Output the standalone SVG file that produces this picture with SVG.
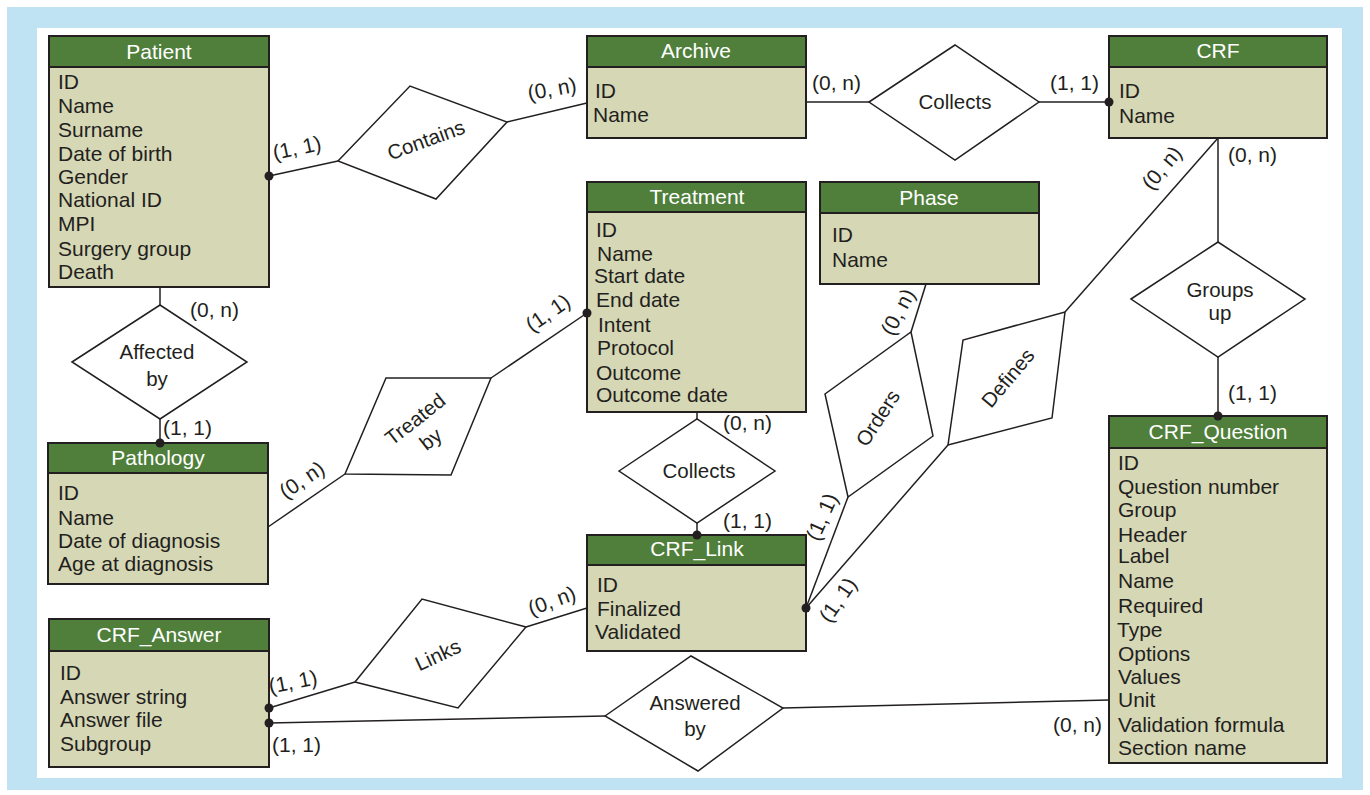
<svg xmlns="http://www.w3.org/2000/svg" width="1370" height="795" viewBox="0 0 1370 795">
  <defs>
    <style>
      text { font-family: "Liberation Sans", Arial, sans-serif; fill: #231f20; }
      .body { fill: #d6d7b5; stroke: #231f20; stroke-width: 2; }
      .head { fill: #4f7f3b; stroke: #231f20; stroke-width: 2; }
      .title { fill: #ffffff; font-size: 21px; text-anchor: middle; }
      .attr { font-size: 21px; }
      .rel { fill: #ffffff; stroke: #231f20; stroke-width: 1.5; stroke-linejoin: miter; }
      .rtxt { font-size: 20.5px; text-anchor: middle; }
      .lbl { font-size: 21px; }
      .clbl { font-size: 21px; text-anchor: middle; }
      .conn line { stroke: #231f20; stroke-width: 1.5; }
      .conn circle { fill: #231f20; }
    </style>
  </defs>

  <!-- frame -->
  <rect x="0" y="0" width="1370" height="795" fill="#ffffff"/>
  <rect x="7" y="7" width="1356" height="783" fill="#c0e3f3"/>
  <rect x="37" y="28" width="1305" height="750" fill="#ffffff"/>

  <!-- connectors -->
  <g id="connectors" class="conn">
    <line x1="269" y1="176" x2="338" y2="161"/>
    <line x1="507" y1="122" x2="587" y2="103"/>
    <line x1="806" y1="102" x2="869" y2="102"/>
    <line x1="1039" y1="102" x2="1109" y2="102"/>
    <line x1="160" y1="287" x2="160" y2="305"/>
    <line x1="160" y1="419" x2="160" y2="443"/>
    <line x1="268" y1="527" x2="345" y2="474"/>
    <line x1="491" y1="378" x2="587" y2="313"/>
    <line x1="697" y1="412" x2="697" y2="419"/>
    <line x1="697" y1="523" x2="697" y2="535"/>
    <line x1="926" y1="284" x2="911" y2="332"/>
    <line x1="848" y1="497" x2="806" y2="608"/>
    <line x1="948" y1="445" x2="806" y2="608"/>
    <line x1="1065" y1="312" x2="1218" y2="138"/>
    <line x1="1218" y1="138" x2="1218" y2="242"/>
    <line x1="1218" y1="357" x2="1218" y2="416"/>
    <line x1="269" y1="708" x2="355" y2="682"/>
    <line x1="526" y1="627" x2="587" y2="608"/>
    <line x1="269" y1="723" x2="605" y2="716"/>
    <line x1="783" y1="708" x2="1109" y2="700"/>
  </g>

  <!-- relationships -->
  <g id="rel-contains">
    <polygon class="rel" points="338,161 410,86 507,122 436,199"/>
    <text class="rtxt" transform="translate(426,140) rotate(-20)" y="7">Contains</text>
  </g>
  <g id="rel-collects-crf">
    <polygon class="rel" points="869,102 955,45 1039,102 955,160"/>
    <text class="rtxt" x="955" y="109">Collects</text>
  </g>
  <g id="rel-affected-by">
    <polygon class="rel" points="72,362 160,305 247,362 160,419"/>
    <text class="rtxt" x="157" y="359">Affected</text>
    <text class="rtxt" x="157" y="386">by</text>
  </g>
  <g id="rel-groups-up">
    <polygon class="rel" points="1131,299 1218,242 1305,299 1218,357"/>
    <text class="rtxt" x="1220" y="297">Groups</text>
    <text class="rtxt" x="1220" y="320">up</text>
  </g>
  <g id="rel-treated-by">
    <polygon class="rel" points="386,378 491,378 451,475 345,474"/>
    <g transform="translate(422,428) rotate(-38)">
      <text class="rtxt" y="-4">Treated</text>
      <text class="rtxt" y="21">by</text>
    </g>
  </g>
  <g id="rel-collects-link">
    <polygon class="rel" points="619,471 697,419 775,471 697,523"/>
    <text class="rtxt" x="699" y="478">Collects</text>
  </g>
  <g id="rel-orders">
    <polygon class="rel" points="911,332 933,436 848,497 825,394"/>
    <text class="rtxt" transform="translate(878,418) rotate(-57)" y="7">Orders</text>
  </g>
  <g id="rel-defines">
    <polygon class="rel" points="1065,312 1052,418 948,445 963,340"/>
    <text class="rtxt" transform="translate(1008,378) rotate(-50)" y="7">Defines</text>
  </g>
  <g id="rel-links">
    <polygon class="rel" points="355,682 422,599 526,627 458,708"/>
    <text class="rtxt" transform="translate(438,655) rotate(-25)" y="7">Links</text>
  </g>
  <g id="rel-answered-by">
    <polygon class="rel" points="605,716 691,656 783,708 698,771"/>
    <text class="rtxt" x="695" y="710">Answered</text>
    <text class="rtxt" x="695" y="736">by</text>
  </g>

  <!-- entities -->
  <g id="ent-patient">
    <rect class="body" x="49" y="36" width="220" height="251"/>
    <rect class="head" x="49" y="36" width="220" height="31"/>
    <text class="title" x="159" y="59">Patient</text>
    <text class="attr" x="58" y="89">ID</text>
    <text class="attr" x="58" y="113">Name</text>
    <text class="attr" x="58" y="137">Surname</text>
    <text class="attr" x="58" y="161">Date of birth</text>
    <text class="attr" x="58" y="184">Gender</text>
    <text class="attr" x="58" y="207">National ID</text>
    <text class="attr" x="58" y="231">MPI</text>
    <text class="attr" x="58" y="256">Surgery group</text>
    <text class="attr" x="58" y="279">Death</text>
  </g>
  <g id="ent-archive">
    <rect class="body" x="587" y="36" width="219" height="102"/>
    <rect class="head" x="587" y="36" width="219" height="31"/>
    <text class="title" x="696" y="58">Archive</text>
    <text class="attr" x="595" y="98">ID</text>
    <text class="attr" x="593" y="122">Name</text>
  </g>
  <g id="ent-crf">
    <rect class="body" x="1109" y="36" width="218" height="102"/>
    <rect class="head" x="1109" y="36" width="218" height="31"/>
    <text class="title" x="1218" y="58">CRF</text>
    <text class="attr" x="1119" y="98">ID</text>
    <text class="attr" x="1119" y="123">Name</text>
  </g>
  <g id="ent-treatment">
    <rect class="body" x="587" y="182" width="219" height="230"/>
    <rect class="head" x="587" y="182" width="219" height="30"/>
    <text class="title" x="697" y="204">Treatment</text>
    <text class="attr" x="596" y="237">ID</text>
    <text class="attr" x="597" y="261">Name</text>
    <text class="attr" x="594" y="283">Start date</text>
    <text class="attr" x="596" y="307">End date</text>
    <text class="attr" x="598" y="332">Intent</text>
    <text class="attr" x="597" y="355">Protocol</text>
    <text class="attr" x="596" y="380">Outcome</text>
    <text class="attr" x="596" y="402">Outcome date</text>
  </g>
  <g id="ent-phase">
    <rect class="body" x="820" y="182" width="219" height="102"/>
    <rect class="head" x="820" y="182" width="219" height="31"/>
    <text class="title" x="929" y="205">Phase</text>
    <text class="attr" x="832" y="242">ID</text>
    <text class="attr" x="832" y="267">Name</text>
  </g>
  <g id="ent-pathology">
    <rect class="body" x="48" y="443" width="220" height="141"/>
    <rect class="head" x="48" y="443" width="220" height="30"/>
    <text class="title" x="158" y="465">Pathology</text>
    <text class="attr" x="58" y="500">ID</text>
    <text class="attr" x="58" y="525">Name</text>
    <text class="attr" x="58" y="548">Date of diagnosis</text>
    <text class="attr" x="58" y="571">Age at diagnosis</text>
  </g>
  <g id="ent-crf-link">
    <rect class="body" x="587" y="535" width="219" height="116"/>
    <rect class="head" x="587" y="535" width="219" height="30"/>
    <text class="title" x="697" y="556">CRF_Link</text>
    <text class="attr" x="597" y="592">ID</text>
    <text class="attr" x="597" y="616">Finalized</text>
    <text class="attr" x="595" y="639">Validated</text>
  </g>
  <g id="ent-crf-answer">
    <rect class="body" x="49" y="619" width="220" height="148"/>
    <rect class="head" x="49" y="619" width="220" height="32"/>
    <text class="title" x="159" y="642">CRF_Answer</text>
    <text class="attr" x="60" y="680">ID</text>
    <text class="attr" x="60" y="704">Answer string</text>
    <text class="attr" x="60" y="727">Answer file</text>
    <text class="attr" x="60" y="751">Subgroup</text>
  </g>
  <g id="ent-crf-question">
    <rect class="body" x="1109" y="416" width="218" height="347"/>
    <rect class="head" x="1109" y="416" width="218" height="32"/>
    <text class="title" x="1218" y="439">CRF_Question</text>
    <text class="attr" x="1118" y="470">ID</text>
    <text class="attr" x="1118" y="494">Question number</text>
    <text class="attr" x="1118" y="517">Group</text>
    <text class="attr" x="1118" y="542">Header</text>
    <text class="attr" x="1118" y="563">Label</text>
    <text class="attr" x="1118" y="588">Name</text>
    <text class="attr" x="1118" y="613">Required</text>
    <text class="attr" x="1117" y="637">Type</text>
    <text class="attr" x="1118" y="661">Options</text>
    <text class="attr" x="1118" y="684">Values</text>
    <text class="attr" x="1118" y="707">Unit</text>
    <text class="attr" x="1118" y="732">Validation formula</text>
    <text class="attr" x="1118" y="755">Section name</text>
  </g>

  <!-- attachment dots -->
  <g id="dots" class="conn">
    <circle cx="269" cy="176" r="4.5"/>
    <circle cx="1109" cy="102" r="4.5"/>
    <circle cx="160" cy="443" r="4.5"/>
    <circle cx="587" cy="313" r="4.5"/>
    <circle cx="697" cy="535" r="4.5"/>
    <circle cx="806" cy="608" r="4.5"/>
    <circle cx="1218" cy="416" r="4.5"/>
    <circle cx="269" cy="708" r="4.5"/>
    <circle cx="269" cy="723" r="4.5"/>
  </g>

  <!-- cardinalities -->
  <g id="cardinalities">
    <text class="clbl" transform="translate(297,148) rotate(-12)" y="7">(1, 1)</text>
    <text class="clbl" transform="translate(552,89) rotate(-10)" y="7">(0, n)</text>
    <text class="lbl" x="812" y="90">(0, n)</text>
    <text class="lbl" x="1050" y="90">(1, 1)</text>
    <text class="lbl" x="1228" y="162">(0, n)</text>
    <text class="clbl" transform="translate(1162,168) rotate(-50)" y="7">(0, n)</text>
    <text class="lbl" x="1228" y="400">(1, 1)</text>
    <text class="lbl" x="190" y="317">(0, n)</text>
    <text class="lbl" x="163" y="435">(1, 1)</text>
    <text class="clbl" transform="translate(302,480) rotate(-34)" y="7">(0, n)</text>
    <text class="clbl" transform="translate(548,313) rotate(-35)" y="7">(1, 1)</text>
    <text class="lbl" x="723" y="430">(0, n)</text>
    <text class="lbl" x="723" y="528">(1, 1)</text>
    <text class="clbl" transform="translate(898,312) rotate(-62)" y="7">(0, n)</text>
    <text class="clbl" transform="translate(822,517) rotate(-66)" y="7">(1, 1)</text>
    <text class="clbl" transform="translate(838,600) rotate(-55)" y="7">(1, 1)</text>
    <text class="clbl" transform="translate(552,601) rotate(-20)" y="7">(0, n)</text>
    <text class="clbl" transform="translate(293,682) rotate(-11)" y="7">(1, 1)</text>
    <text class="lbl" x="272" y="752">(1, 1)</text>
    <text class="lbl" x="1053" y="732">(0, n)</text>
  </g>
</svg>
